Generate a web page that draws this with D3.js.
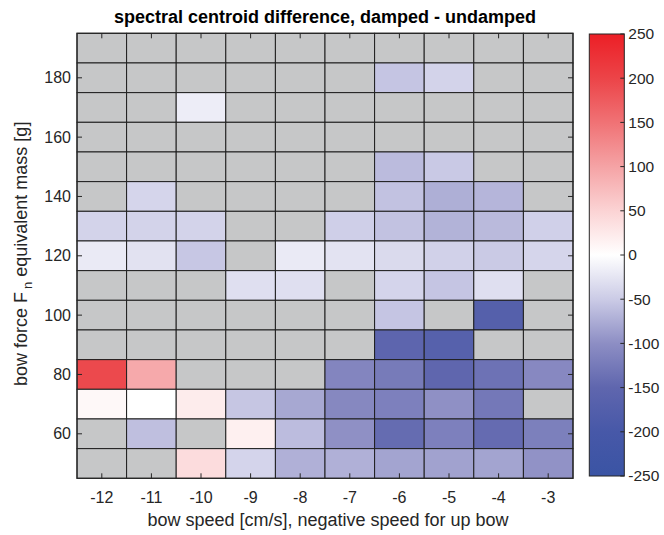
<!DOCTYPE html>
<html><head><meta charset="utf-8">
<script src="https://cdn.jsdelivr.net/npm/d3@7"></script>
<style>body{margin:0;background:#fff;} text{font-family:"Liberation Sans",Arial,sans-serif;}</style>
</head><body>
<svg id="c" width="664" height="535"></svg>
<script>
// ---- data ----
const speeds = [-12,-11,-10,-9,-8,-7,-6,-5,-4,-3];
const masses = [190,180,170,160,150,140,130,120,110,100,90,80,70,60,50];
const n = null;
const diff = [
  [n,n,n,n,n,n,n,n,n,n],
  [n,n,n,n,n,n,-55,-42,n,n],
  [n,n,-17,n,n,n,n,n,n,n],
  [n,n,n,n,n,n,n,n,n,n],
  [n,n,n,n,n,n,-63,-52,n,n],
  [n,-40,n,n,n,n,-57,-73,-68,n],
  [-42,-42,-42,n,n,-46,-57,-70,-64,-45],
  [-20,-28,-53,n,-20,-27,-36,-44,-51,-40],
  [n,n,n,-31,-31,n,-41,-55,-31,n],
  [n,n,n,n,n,n,-55,n,-171,n],
  [n,n,n,n,n,n,-154,-169,n,n],
  [195,94,n,n,n,-111,-124,-150,-135,-107],
  [8,0,22,-54,-79,-108,-117,-98,-127,n],
  [n,-60,n,17,-62,-98,-143,-117,-144,-118],
  [n,n,40,-41,-72,-72,-82,-84,-82,-97]
];
const xTicks = [-12,-11,-10,-9,-8,-7,-6,-5,-4,-3];
const yTicks = [60,80,100,120,140,160,180];
const cTicks = [-250,-200,-150,-100,-50,0,50,100,150,200,250];
const cStops = [-250,-200,-150,-100,-50,0,50,100,150,200,250];
const cColors = ["#3a54a4","#4758a8","#5f66ae","#8d8ec4","#cbcbe6","#ffffff","#fbd3d4","#f5a3a5","#f07275","#ec4448","#ec1f26"];

// ---- layout ----
const svg = d3.select("#c");
const L = 77, R = 573, T = 33.3, B = 478.3;
const x = d3.scaleLinear().domain([-12.5,-2.5]).range([L,R]);
const y = d3.scaleLinear().domain([45,195]).range([B,T]);
const color = d3.scaleLinear().domain(cStops).range(cColors).clamp(true);
const txt = "#262626";

const cells = [];
masses.forEach((m,i)=>speeds.forEach((s,j)=>cells.push({m,s,v:diff[i][j]})));
svg.append("g").selectAll("rect").data(cells).join("rect")
  .attr("x",d=>x(d.s-0.5)).attr("y",d=>y(d.m+5))
  .attr("width",d=>x(d.s+0.5)-x(d.s-0.5)).attr("height",d=>y(d.m-5)-y(d.m+5))
  .attr("fill",d=>d.v===null?"#c6c7c8":color(d.v))
  .attr("stroke","#1e1e1e").attr("stroke-width",1);

// axes
const ax = svg.append("g");
ax.append("rect").attr("x",L).attr("y",T).attr("width",R-L).attr("height",B-T)
  .attr("fill","none").attr("stroke","#262626").attr("stroke-width",1.2);
const tl = 5;
xTicks.forEach(t=>{
  ax.append("line").attr("x1",x(t)).attr("x2",x(t)).attr("y1",B).attr("y2",B-tl).attr("stroke","#262626");
  ax.append("line").attr("x1",x(t)).attr("x2",x(t)).attr("y1",T).attr("y2",T+tl).attr("stroke","#262626");
  ax.append("text").attr("x",x(t)).attr("y",B+25).attr("text-anchor","middle")
    .attr("font-size",16).attr("fill",txt).text(t);
});
yTicks.forEach(t=>{
  ax.append("line").attr("x1",L).attr("x2",L+tl).attr("y1",y(t)).attr("y2",y(t)).attr("stroke","#262626");
  ax.append("line").attr("x1",R).attr("x2",R-tl).attr("y1",y(t)).attr("y2",y(t)).attr("stroke","#262626");
  ax.append("text").attr("x",L-6).attr("y",y(t)).attr("dy","0.35em").attr("text-anchor","end")
    .attr("font-size",16).attr("fill",txt).text(t);
});

// title & labels
svg.append("text").attr("x",(L+R)/2).attr("y",23).attr("text-anchor","middle")
  .attr("font-size",18).attr("font-weight","bold").attr("fill","#000")
  .text("spectral centroid difference, damped - undamped");
svg.append("text").attr("x",(L+R)/2+3).attr("y",526).attr("text-anchor","middle")
  .attr("font-size",18).attr("fill",txt).text("bow speed [cm/s], negative speed for up bow");
const yl = svg.append("text").attr("transform",`translate(27,${(T+B)/2-2}) rotate(-90)`)
  .attr("text-anchor","middle").attr("font-size",18).attr("fill",txt);
yl.append("tspan").text("bow force F");
yl.append("tspan").attr("font-size",13).attr("dy",5).attr("dx",3).text("n");
yl.append("tspan").attr("dy",-5).text(" equivalent mass [g]");

// colorbar
const cbL = 589.3, cbR = 624.3, cbT = 34, cbB = 476;
const cy = d3.scaleLinear().domain([-250,250]).range([cbB,cbT]);
const defs = svg.append("defs");
const grad = defs.append("linearGradient").attr("id","cg").attr("x1",0).attr("y1",1).attr("x2",0).attr("y2",0);
cStops.forEach((s,i)=>grad.append("stop").attr("offset",(s+250)/500).attr("stop-color",cColors[i]));
svg.append("rect").attr("x",cbL).attr("y",cbT).attr("width",cbR-cbL).attr("height",cbB-cbT)
  .attr("fill","url(#cg)").attr("stroke","#262626").attr("stroke-width",1);
cTicks.forEach(t=>{
  svg.append("line").attr("x1",cbR).attr("x2",cbR-4).attr("y1",cy(t)).attr("y2",cy(t)).attr("stroke","#262626");
  svg.append("text").attr("x",cbR+4).attr("y",cy(t)).attr("dy","0.35em")
    .attr("font-size",15.5).attr("fill",txt).text(t);
});
</script>
</body></html>
